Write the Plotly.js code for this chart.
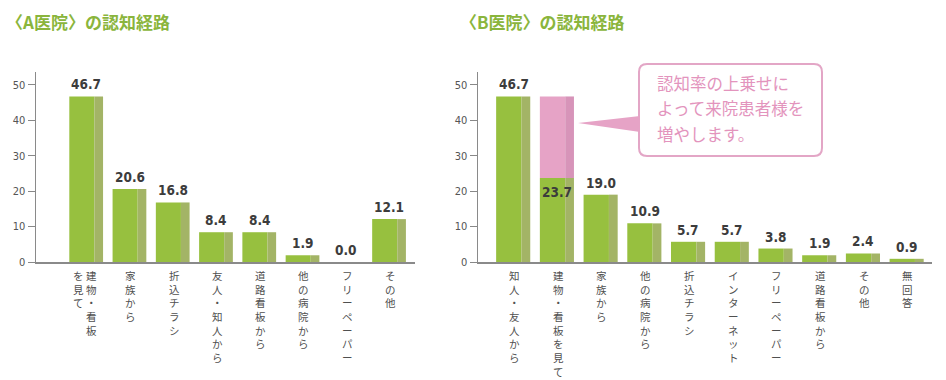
<!DOCTYPE html>
<html><head><meta charset="utf-8">
<script src="https://cdn.plot.ly/plotly-3.0.1.min.js"></script>
<style>html,body{margin:0;padding:0;background:#fff}#chart{width:946px;height:380px}</style>
</head><body><div id="chart"></div>
<script>
// ---- data ----
const titleA = "〈A医院〉の認知経路";
const titleB = "〈B医院〉の認知経路";
const catsA = ["建物・看板を見て","家族から","折込チラシ","友人・知人から","道路看板から","他の病院から","フリーペーパー","その他"];
const valsA = [46.7, 20.6, 16.8, 8.4, 8.4, 1.9, 0.0, 12.1];
const catsB = ["知人・友人から","建物・看板を見て","家族から","他の病院から","折込チラシ","インターネット","フリーペーパー","道路看板から","その他","無回答"];
const valsB = [46.7, 23.7, 19.0, 10.9, 5.7, 5.7, 3.8, 1.9, 2.4, 0.9];
const boostCategory = "建物・看板を見て";
const boostTarget = 46.7;
const calloutLines = ["認知率の上乗せに","よって来院患者様を","増やします。"];
const yTicks = [0, 10, 20, 30, 40, 50];

// ---- styling helpers ----
const W = 946, H = 380;
const px = x => x / W, py = y => 1 - y / H;
const GREEN = "#97c03f", GREEN_SIDE = "#a3b466", PINK = "#e6a3c6", PINK_SIDE = "#d794b9";
const FRONT_W = 0.58, FRONT_OFF = -0.42, SIDE_W = 0.2, SIDE_OFF = 0.16;
const jp = '"Noto Sans CJK JP", "Noto Sans", sans-serif';
const num = '"DejaVu Sans Condensed", "Liberation Sans Narrow", Arial, sans-serif';
const yDom = [py(262), py(72)];
const vert = s => s.split('').join('<br>');

function barPair(cats, vals, xa, ya, base, cFront, cSide) {
  const common = {type:'bar', x:cats, y:vals, xaxis:xa, yaxis:ya, hoverinfo:'skip', showlegend:false};
  if (base) { common.base = base; }
  return [
    Object.assign({}, common, {width:FRONT_W, offset:FRONT_OFF, marker:{color:cFront, line:{width:0}}}),
    Object.assign({}, common, {width:SIDE_W, offset:SIDE_OFF, marker:{color:cSide, line:{width:0}}})
  ];
}

const bi = catsB.indexOf(boostCategory);
const traces = [
  ...barPair(catsA, valsA, 'x', 'y', null, GREEN, GREEN_SIDE),
  ...barPair(catsB, valsB, 'x2', 'y2', null, GREEN, GREEN_SIDE),
  ...barPair([catsB[bi]], [boostTarget - valsB[bi]], 'x2', 'y2', [valsB[bi]], PINK, PINK_SIDE)
];

const annotations = [];
// titles
annotations.push({text:titleA, xref:'paper', yref:'paper', x:px(4), y:py(7), xanchor:'left', yanchor:'top', showarrow:false,
  font:{family:jp, size:17, color:'#8ab53c', weight:'bold'}});
annotations.push({text:titleB, xref:'paper', yref:'paper', x:px(458), y:py(7), xanchor:'left', yanchor:'top', showarrow:false,
  font:{family:jp, size:17, color:'#8ab53c', weight:'bold'}});
// value labels
function valueLabels(vals, xa, ya, insideIdx) {
  vals.forEach((v, i) => {
    const inside = i === insideIdx;
    annotations.push({text:v.toFixed(1), xref:xa, yref:ya, x:i, y:v, xanchor:'center',
      yanchor: inside ? 'top' : 'bottom', yshift: inside ? -4 : 2, xshift:-1, showarrow:false,
      font:{family:num, size:13.5, color:'#3c3c3c', weight:'bold'}});
  });
}
valueLabels(valsA, 'x', 'y', -1);
valueLabels(valsB, 'x2', 'y2', bi);
// vertical category labels
const labFont = {family:jp, size:10.5, color:'#505050'};
function catLabels(cats, xa, splitFirst) {
  cats.forEach((c, i) => {
    if (splitFirst && i === 0) {
      annotations.push({text:vert("建物・看板"), xref:xa, yref:'paper', x:i, y:yDom[0], yanchor:'top', yshift:-4, xshift:4,
        showarrow:false, font:labFont});
      annotations.push({text:vert("を見て"), xref:xa, yref:'paper', x:i, y:yDom[0], yanchor:'top', yshift:-4, xshift:-9,
        showarrow:false, font:labFont});
    } else {
      annotations.push({text:vert(c), xref:xa, yref:'paper', x:i, y:yDom[0], yanchor:'top', yshift:-4,
        showarrow:false, font:labFont});
    }
  });
}
catLabels(catsA, 'x', true);
catLabels(catsB, 'x2', false);
// callout text
calloutLines.forEach((t, k) => {
  annotations.push({text:t, xref:'paper', yref:'paper', x:px(655), y:py(83 + k*25.5), xanchor:'left', yanchor:'middle',
    showarrow:false, font:{family:jp, size:16.5, color:'#e394bd'}});
});

// callout shapes (rounded box + pointer)
function P(x, y) { return px(x) + ',' + py(y); }
const bx0 = 639, bx1 = 822, by0 = 64, by1 = 156, r = 8;
const boxPath = 'M' + P(bx0 + r, by0) + ' L' + P(bx1 - r, by0) + ' Q' + P(bx1, by0) + ' ' + P(bx1, by0 + r) +
  ' L' + P(bx1, by1 - r) + ' Q' + P(bx1, by1) + ' ' + P(bx1 - r, by1) +
  ' L' + P(bx0 + r, by1) + ' Q' + P(bx0, by1) + ' ' + P(bx0, by1 - r) +
  ' L' + P(bx0, by0 + r) + ' Q' + P(bx0, by0) + ' ' + P(bx0 + r, by0) + ' Z';
const shapes = [
  {type:'path', xref:'paper', yref:'paper', path:boxPath, fillcolor:'#ffffff', line:{color:'#e3a6c6', width:2}},
  {type:'path', xref:'paper', yref:'paper', path:'M' + P(578, 123) + ' L' + P(640, 116) + ' L' + P(640, 132) + ' Z',
    fillcolor:'#e6a3c6', line:{width:0}}
];

const yAxisCommon = {range:[0, 53.6], domain:yDom, tickvals:yTicks, ticks:'outside', ticklen:7, tickwidth:1, tickcolor:'#888',
  showline:true, linecolor:'#8a8a8a', linewidth:1.5, showgrid:false, zeroline:false,
  tickfont:{family:num, size:11, color:'#555'}, automargin:false, fixedrange:true};
const xAxisCommon = {type:'category', showline:true, linecolor:'#8a8a8a', linewidth:1.5, showticklabels:false, ticks:'',
  showgrid:false, zeroline:false, automargin:false, fixedrange:true};

const layout = {
  width:W, height:H, margin:{l:0, r:0, t:0, b:0}, paper_bgcolor:'#fff', plot_bgcolor:'rgba(0,0,0,0)',
  barmode:'overlay', showlegend:false,
  xaxis: Object.assign({}, xAxisCommon, {domain:[px(36), px(415)], range:[-1.19, 7.57], anchor:'y'}),
  yaxis: Object.assign({}, yAxisCommon, {anchor:'x'}),
  xaxis2: Object.assign({}, xAxisCommon, {domain:[px(478), px(932)], range:[-0.835, 9.55], anchor:'y2'}),
  yaxis2: Object.assign({}, yAxisCommon, {anchor:'x2'}),
  annotations, shapes
};
Plotly.newPlot('chart', traces, layout, {staticPlot:true, displayModeBar:false});
</script></body></html>
